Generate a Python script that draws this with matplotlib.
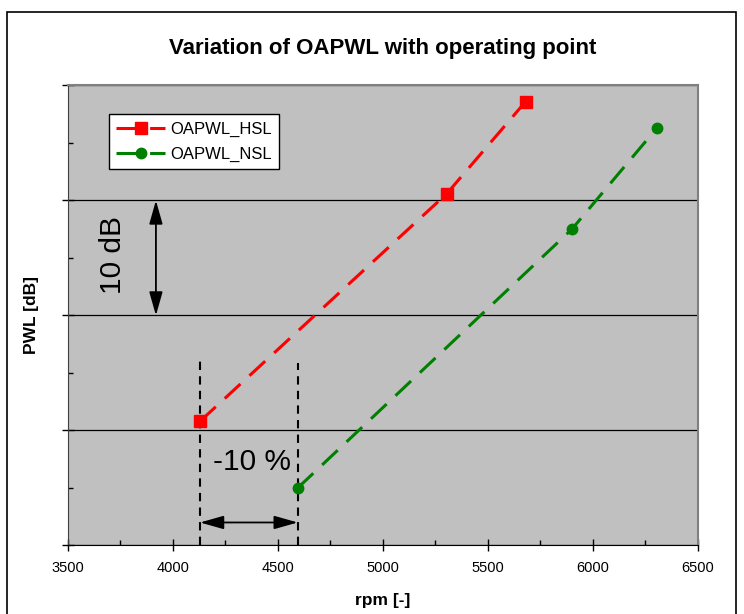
import numpy as np
import matplotlib.pyplot as plt
from matplotlib.patches import Rectangle
from matplotlib.ticker import MultipleLocator, NullFormatter

plt.rcParams['font.family'] = ['Liberation Sans', 'DejaVu Sans']

# data (y scale is relative dB, no labels shown)
rpm_hsl = [4130, 5305, 5680]
pwl_hsl = [90.8, 110.6, 118.6]
rpm_nsl = [4595, 5900, 6305]
pwl_nsl = [85.0, 107.5, 116.3]

x_ticks = [3500, 4000, 4500, 5000, 5500, 6000, 6500]

gray_bg = '#C0C0C0'

fig = plt.figure(figsize=(7.44, 6.14), dpi=100)
ax = fig.add_axes([0.091, 0.1116, 0.847, 0.7492])
ax.set_facecolor(gray_bg)

# chart frame around everything
fig.patches.append(Rectangle((7 / 744, -0.02), 729 / 744, 1.02 - 12 / 614,
                             transform=fig.transFigure, fill=False,
                             edgecolor='black', linewidth=1.2))

ax.plot(rpm_hsl, pwl_hsl, color='#FF0000', lw=2.2, dashes=(7, 4),
        marker='s', markersize=8, label='OAPWL_HSL', zorder=4)
ax.plot(rpm_nsl, pwl_nsl, color='#008000', lw=2.2, dashes=(7, 4),
        marker='o', markersize=7.5, label='OAPWL_NSL', zorder=4)

ax.set_xlim(3500, 6500)
ax.set_ylim(80, 120)
ax.set_xticks(x_ticks)
ax.xaxis.set_minor_locator(MultipleLocator(250))
ax.yaxis.set_major_locator(MultipleLocator(10))
ax.yaxis.set_minor_locator(MultipleLocator(5))
ax.yaxis.set_major_formatter(NullFormatter())
ax.grid(axis='y', which='major', color='black', lw=0.9)
ax.set_axisbelow(True)

ax.tick_params(which='major', direction='inout', length=8, width=1, labelsize=10.5, pad=7)
ax.tick_params(which='minor', direction='in', length=3.5, width=1)

for s in ['top', 'right']:
    ax.spines[s].set_color('#808080')
    ax.spines[s].set_linewidth(1.5)
ax.spines['left'].set_color('#404040')
ax.spines['bottom'].set_color('black')

arrow = dict(arrowstyle='<|-|>,head_length=0.6,head_width=0.17', color='black',
             lw=1.3, mutation_scale=24, shrinkA=0, shrinkB=0)

# -10 % annotation
ax.plot([rpm_hsl[0], rpm_hsl[0]], [80, 96.2], color='black', lw=1.5, dashes=(4, 3), zorder=3)
ax.plot([rpm_nsl[0], rpm_nsl[0]], [80, 95.9], color='black', lw=1.5, dashes=(4, 3), zorder=3)
ax.annotate('', xy=(rpm_hsl[0], 82.0), xytext=(rpm_nsl[0], 82.0), arrowprops=arrow)
ax.text(4377, 87.3, '-10 %', fontsize=21.5, ha='center', va='center')

# 10 dB annotation
ax.annotate('', xy=(3920, 110), xytext=(3920, 100), arrowprops=arrow)
ax.text(3716, 105.3, '10 dB', fontsize=21.5, rotation=90, ha='center', va='center')

ax.set_title('Variation of OAPWL with operating point', fontsize=16,
             fontweight='bold', pad=23)
ax.set_xlabel('rpm [-]', fontsize=12.5, fontweight='bold', labelpad=13)
ax.set_ylabel('PWL [dB]', fontsize=12.5, fontweight='bold', labelpad=10)

leg = ax.legend(loc='upper left', bbox_to_anchor=(0.0655, 0.938), borderaxespad=0,
                fontsize=12, handlelength=2.9, fancybox=False, framealpha=1,
                edgecolor='black', borderpad=0.45, labelspacing=0.6, handletextpad=0.3)
leg.get_frame().set_linewidth(1)

fig.savefig('out.png', dpi=100)
